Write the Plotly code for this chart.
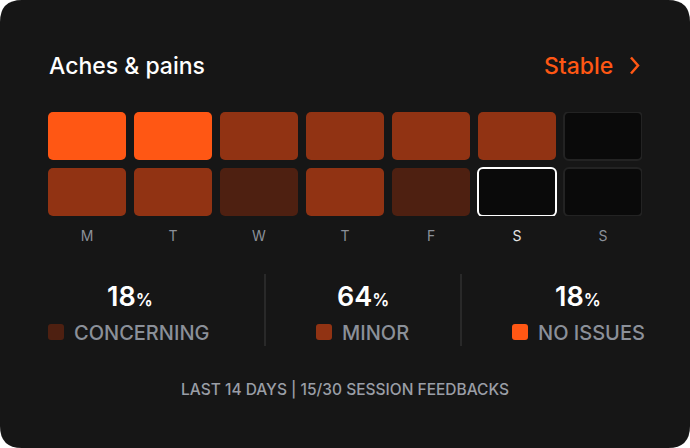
import plotly.graph_objects as go

# ---- data ----
days = ["M", "T", "W", "T", "F", "S", "S"]
week_prev = ["none", "none", "minor", "minor", "minor", "minor", None]
week_this = ["minor", "minor", "concerning", "minor", "concerning", None, None]
today_index = 5
title = "Aches & pains"
trend = "Stable"
categories = ["concerning", "minor", "none"]
category_labels = ["CONCERNING", "MINOR", "NO ISSUES"]
footer = "LAST 14 DAYS | 15/30 SESSION FEEDBACKS"

# ---- styles ----
W, H = 690, 448
BG = "#161616"
COL = {"none": "#FF5714", "minor": "#913313", "concerning": "#4E2011", None: "#0A0A0A"}
GRAY = "#8B9099"
FONT = "Inter"

def px(x):
    return x / W

def py(y):
    return 1 - y / H

TILE_H = 48
ROW_GAP = 8
PITCH = 86
TILE_W = 78

fig = go.Figure()

def tile_trace(statuses, base, today=None):
    colors = [COL[s] for s in statuses]
    lcol, lw = [], []
    for i, s in enumerate(statuses):
        if today is not None and i == today:
            lcol.append("#FFFFFF"); lw.append(2)
        elif s is None:
            lcol.append("#232323"); lw.append(2)
        else:
            lcol.append("rgba(0,0,0,0)"); lw.append(0)
    return go.Bar(
        x=list(range(len(days))), y=[TILE_H] * len(days), base=[base] * len(days),
        width=TILE_W / PITCH,
        marker=dict(color=colors, line=dict(color=lcol, width=lw), cornerradius=5),
        hoverinfo="skip", showlegend=False,
    )

fig.add_trace(tile_trace(week_prev, TILE_H + ROW_GAP))
fig.add_trace(tile_trace(week_this, 0, today_index))

ticktext = [
    f"<span style='color:#E4E4E4'>{d}</span>" if i == today_index else d
    for i, d in enumerate(days)
]

half = (TILE_W / 2) / PITCH
fig.update_layout(
    width=W, height=H, autosize=False,
    margin=dict(l=0, r=0, t=0, b=0),
    paper_bgcolor="#FFFFFF", plot_bgcolor="rgba(0,0,0,0)",
    barmode="overlay",
    font=dict(family=FONT, color=GRAY),
    xaxis=dict(domain=[px(48), px(642)], range=[-half, len(days) - 1 + half],
               tickvals=list(range(len(days))), ticktext=ticktext,
               showgrid=False, zeroline=False, showline=False, ticks="",
               tickfont=dict(size=14, color=GRAY, family=FONT), ticklabelstandoff=10,
               fixedrange=True),
    yaxis=dict(domain=[py(216), py(112)], range=[0, 2 * TILE_H + ROW_GAP],
               visible=False, fixedrange=True),
)

# card background
r = 22
rx, ry = r / W, r / H
card = (f"M {rx} 1 L {1-rx} 1 Q 1 1 1 {1-ry} L 1 {ry} Q 1 0 {1-rx} 0 "
        f"L {rx} 0 Q 0 0 0 {ry} L 0 {1-ry} Q 0 1 {rx} 1 Z")
shapes = [dict(type="path", path=card, xref="paper", yref="paper",
               fillcolor=BG, line=dict(width=0), layer="below")]

# chevron
shapes.append(dict(type="path", xref="paper", yref="paper",
                   path=f"M {px(631)} {py(57.5)} L {px(638)} {py(65.5)} L {px(631)} {py(73.5)}",
                   line=dict(color="#FF5714", width=2.5)))

# dividers
for xd in (265, 461):
    shapes.append(dict(type="line", xref="paper", yref="paper",
                       x0=px(xd), x1=px(xd), y0=py(274), y1=py(346),
                       line=dict(color="#303030", width=1.5)))

annotations = [
    dict(text=title, x=px(47), y=py(65.5), xref="paper", yref="paper",
         xanchor="left", yanchor="middle", showarrow=False,
         font=dict(size=23, color="#FFFFFF", family=FONT, weight=500)),
    dict(text=trend, x=px(615), y=py(65.5), xref="paper", yref="paper",
         xanchor="right", yanchor="middle", showarrow=False,
         font=dict(size=23, color="#FF5714", family=FONT, weight=500)),
    dict(text=footer, x=0.5, y=py(389), xref="paper", yref="paper",
         xanchor="center", yanchor="middle", showarrow=False,
         font=dict(size=15.5, color="#9A9EA6", family=FONT, weight=500)),
]

all_status = [s for s in week_prev + week_this if s is not None]
total = len(all_status)
centers = [130, 363, 578]
sw_x = [48, 316, 512]
for cat, lab, cx, sx in zip(categories, category_labels, centers, sw_x):
    pct = round(100 * all_status.count(cat) / total)
    annotations.append(dict(
        text=f"{pct}<span style='font-size:17px'>%</span>",
        x=px(cx), y=py(296.5), xref="paper", yref="paper",
        xanchor="center", yanchor="middle", showarrow=False,
        font=dict(size=27, color="#FFFFFF", family=FONT, weight=600)))
    shapes.append(dict(type="path", xref="paper", yref="paper",
                       path=(f"M {px(sx+3)} {py(324)} L {px(sx+13)} {py(324)} Q {px(sx+16)} {py(324)} {px(sx+16)} {py(327)} "
                             f"L {px(sx+16)} {py(337)} Q {px(sx+16)} {py(340)} {px(sx+13)} {py(340)} "
                             f"L {px(sx+3)} {py(340)} Q {px(sx)} {py(340)} {px(sx)} {py(337)} "
                             f"L {px(sx)} {py(327)} Q {px(sx)} {py(324)} {px(sx+3)} {py(324)} Z"),
                       fillcolor=COL[cat], line=dict(width=0)))
    annotations.append(dict(
        text=lab, x=px(sx + 24), y=py(332.5), xref="paper", yref="paper",
        xanchor="left", yanchor="middle", showarrow=False,
        font=dict(size=20, color=GRAY, family=FONT, weight=500)))

fig.update_layout(shapes=shapes, annotations=annotations)
fig.write_html("out.html", config={"displayModeBar": False},
               post_script="document.body.style.margin='0';")
